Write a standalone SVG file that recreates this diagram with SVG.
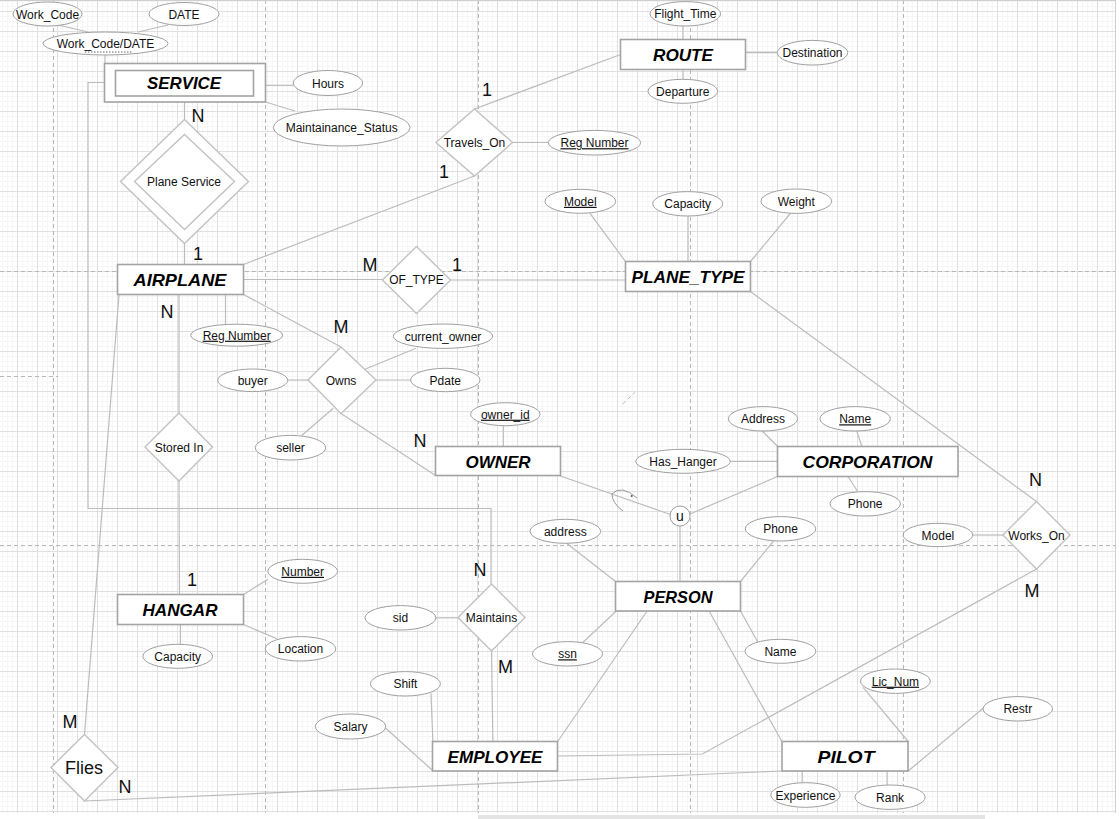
<svg xmlns="http://www.w3.org/2000/svg" width="1119" height="819" viewBox="0 0 1119 819">
<style>
.bg{fill:#ffffff}
.c{fill:none;stroke:#bcbcbc;stroke-width:1.2}
.pb{fill:none;stroke:#b8b8b8;stroke-width:1;stroke-dasharray:4 3}
.ent{fill:#ffffff;stroke:#a3a3a3;stroke-width:1.6}
.rel{fill:#ffffff;stroke:#c2c2c2;stroke-width:1.4}
.att{fill:#ffffff;stroke:#a0a0a0;stroke-width:1}
.et{font-family:"Liberation Sans",Arial,sans-serif;font-weight:900;font-style:italic;font-size:17px;fill:#000;text-anchor:middle}
.t{font-family:"Liberation Sans",Arial,sans-serif;font-size:12px;fill:#111;text-anchor:middle}
.k{text-decoration:underline}
.card{font-family:"Liberation Sans",Arial,sans-serif;font-size:18px;fill:#111;text-anchor:middle}
</style>
<defs>
<pattern id="grid" patternUnits="userSpaceOnUse" x="17" y="11" width="20" height="20">
<path d="M5.5 0V20M10.5 0V20M15.5 0V20M0 5.5H20M0 10.5H20M0 15.5H20" stroke="#f6f6f6" stroke-width="1" fill="none"/>
<path d="M0.5 0V20M0 0.5H20" stroke="#e0e0e0" stroke-width="1" fill="none"/>
</pattern>
</defs>
<rect class="bg" x="0" y="0" width="1119" height="819"/>
<rect x="0" y="0" width="1115" height="813" fill="url(#grid)"/>
<g id="page-breaks">
<path class="pb" d="M53.5 0V813M265.5 0V813M478.5 0V813M690.5 0V813M903.5 0V813M0 271.5H1115M0 545.5H1115M0 376.5H58"/>
<path class="pb" d="M622.7 404L635 392.3"/>
</g>
<path d="M0 0.5H1116M1115.5 0V813" stroke="#cfcfcf" stroke-width="1" fill="none"/>
<rect x="478" y="815" width="507" height="4" fill="#e4e4e4"/>

<g id="connectors">
<path class="c" d="M58 25L88 32"/>
<path class="c" d="M168 25L138 32"/>
<path class="c" d="M105 55V63.5"/>
<path class="c" d="M265.5 85.3H293.3"/>
<path class="c" d="M265.5 102L295 111"/>
<path class="c" d="M184.5 101.5V119.5"/>
<path class="c" d="M184.5 243.5V264.5"/>
<path class="c" d="M104.5 82.5H88V508.5H491V584"/>
<path class="c" d="M683 26V39.5"/>
<path class="c" d="M745.5 52.7H777.3"/>
<path class="c" d="M683 69.5V79.3"/>
<path class="c" d="M620.5 54.5L474.5 109"/>
<path class="c" d="M512.5 142.5H548.3"/>
<path class="c" d="M474.5 176L243.5 264.5"/>
<path class="c" d="M590 213.3L625.5 261.5"/>
<path class="c" d="M688 216V261.5"/>
<path class="c" d="M790.7 213L750.5 261.5"/>
<path class="c" d="M243.5 279.5H382.5"/>
<path class="c" d="M450.5 280H625.5"/>
<path class="c" d="M750.5 291.5L1036.5 501.5"/>
<path class="c" d="M179 294.5V413"/>
<path class="c" d="M225.5 294.5V324.2"/>
<path class="c" d="M243.5 294.5L341 347"/>
<path class="c" d="M119 294.5L84.5 734.5"/>
<path class="c" d="M287.7 380H308"/>
<path class="c" d="M416 348.3L365 369.3"/>
<path class="c" d="M376 380H410.7"/>
<path class="c" d="M301.7 435.5L333.3 408.3"/>
<path class="c" d="M341 413.5L435.5 475.5"/>
<path class="c" d="M503.3 425.7V446.5"/>
<path class="c" d="M560.5 476L670.5 514.5"/>
<path class="c" d="M690 514L777.5 476.5"/>
<path class="c" d="M680 526V581.5"/>
<path class="c" d="M730.3 461.3H777.5"/>
<path class="c" d="M762.2 431L777.7 446.5"/>
<path class="c" d="M856.7 431L861.9 446.5"/>
<path class="c" d="M848.1 476.5L857.8 491.7"/>
<path class="c" d="M566.7 543.3L615.5 581.5"/>
<path class="c" d="M773.5 541L740.5 581.5"/>
<path class="c" d="M972.6 535H1003"/>
<path class="c" d="M1036.5 569L702.5 754L557.5 756"/>
<path class="c" d="M179 481L179.5 594.5"/>
<path class="c" d="M243.5 594.5L267.9 579.3"/>
<path class="c" d="M243.5 624.5L276.8 638.7"/>
<path class="c" d="M180.4 624.5V644.3"/>
<path class="c" d="M435.8 617.8H458"/>
<path class="c" d="M491.5 651L492.9 741.5"/>
<path class="c" d="M431 693.3L432.9 741.5"/>
<path class="c" d="M385.7 728.3L432.9 770.7"/>
<path class="c" d="M582.5 642.7L615.7 611.5"/>
<path class="c" d="M647.1 611L557.7 741.5"/>
<path class="c" d="M709.1 611L781.9 741.5"/>
<path class="c" d="M740.5 611L757.9 642.3"/>
<path class="c" d="M863.1 687.3L908.2 741.5"/>
<path class="c" d="M983.1 708.3L908.2 771"/>
<path class="c" d="M802.2 771V782.7"/>
<path class="c" d="M887.1 771V785"/>
<path class="c" d="M84.5 801L782 771"/>
<path d="M637 498Q621 484 612 494Q612 503 623 511" fill="none" stroke="#999" stroke-width="1"/>
<circle cx="631.7" cy="496" r="1" fill="#555"/>
<text class="card" x="198" y="121.5">N</text>
<text class="card" x="198" y="259.5">1</text>
<text class="card" x="487" y="95.5">1</text>
<text class="card" x="444" y="178">1</text>
<text class="card" x="370" y="270.5">M</text>
<text class="card" x="457" y="270.5">1</text>
<text class="card" x="167" y="318">N</text>
<text class="card" x="341" y="333">M</text>
<text class="card" x="420" y="447">N</text>
<text class="card" x="1035.5" y="485.5">N</text>
<text class="card" x="1032" y="597">M</text>
<text class="card" x="192" y="585.5">1</text>
<text class="card" x="480" y="575.5">N</text>
<text class="card" x="505.5" y="673">M</text>
<text class="card" x="70" y="728">M</text>
<text class="card" x="125" y="793">N</text>
</g>

<g id="SERVICE">
<rect class="ent" x="104.5" y="63.5" width="161" height="38.5"/>
<rect class="ent" x="115.5" y="70.5" width="138" height="25.5"/>
<text class="et" x="184" y="89" textLength="74" lengthAdjust="spacingAndGlyphs">SERVICE</text>
</g>
<g id="ROUTE">
<rect class="ent" x="620.5" y="39.5" width="125" height="30"/>
<text class="et" x="683" y="60.5" textLength="60" lengthAdjust="spacingAndGlyphs">ROUTE</text>
</g>
<g id="PLANE_TYPE">
<rect class="ent" x="625.5" y="261.5" width="125" height="30"/>
<text class="et" x="688" y="282.5" textLength="113" lengthAdjust="spacingAndGlyphs">PLANE_TYPE</text>
</g>
<g id="AIRPLANE">
<rect class="ent" x="117.5" y="264.5" width="126" height="30"/>
<text class="et" x="180" y="286" textLength="93" lengthAdjust="spacingAndGlyphs">AIRPLANE</text>
</g>
<g id="OWNER">
<rect class="ent" x="435.5" y="446.5" width="125" height="29"/>
<text class="et" x="498" y="467.5" textLength="65" lengthAdjust="spacingAndGlyphs">OWNER</text>
</g>
<g id="CORPORATION">
<rect class="ent" x="777.5" y="446.5" width="180.5" height="30"/>
<text class="et" x="867.5" y="467.5" textLength="130" lengthAdjust="spacingAndGlyphs">CORPORATION</text>
</g>
<g id="PERSON">
<rect class="ent" x="615.5" y="581.5" width="125" height="29.5"/>
<text class="et" x="678" y="602.5" textLength="69" lengthAdjust="spacingAndGlyphs">PERSON</text>
</g>
<g id="HANGAR">
<rect class="ent" x="117.5" y="594.5" width="126" height="30"/>
<text class="et" x="180" y="616" textLength="75" lengthAdjust="spacingAndGlyphs">HANGAR</text>
</g>
<g id="EMPLOYEE">
<rect class="ent" x="432.5" y="741.5" width="125" height="29.5"/>
<text class="et" x="495" y="762.5" textLength="95" lengthAdjust="spacingAndGlyphs">EMPLOYEE</text>
</g>
<g id="PILOT">
<rect class="ent" x="782" y="741.5" width="126" height="29.5"/>
<text class="et" x="846" y="762.5" textLength="57" lengthAdjust="spacingAndGlyphs">PILOT</text>
</g>

<g id="Plane_Service">
<polygon class="rel" points="184.5,119.5 248.5,181.5 184.5,243.5 120.5,181.5"/>
<polygon class="rel" points="184.5,134.5 234.5,181.5 184.5,229.5 134.5,181.5"/>
<text class="t" x="184" y="186">Plane Service</text>
</g>
<g id="Travels_On">
<polygon class="rel" points="474.5,109 512.5,142.5 474.5,176 436,142.5"/>
<text class="t" x="474.5" y="147">Travels_On</text>
</g>
<g id="OF_TYPE">
<polygon class="rel" points="416.5,246.5 450.5,280 416.5,313.5 382.5,280"/>
<text class="t" x="416.5" y="284">OF_TYPE</text>
</g>
<g id="Owns">
<polygon class="rel" points="341,347 376,380 341,413.5 308,380"/>
<text class="t" x="341" y="384.5">Owns</text>
</g>
<g id="Stored_In">
<polygon class="rel" points="179,413 212.5,447 179,481 145,447"/>
<text class="t" x="179" y="451.5">Stored In</text>
</g>
<g id="Works_On">
<polygon class="rel" points="1036.5,501.5 1070,535 1036.5,569 1003,535"/>
<text class="t" x="1036.5" y="539.5">Works_On</text>
</g>
<g id="Maintains">
<polygon class="rel" points="491.5,584 525,617.5 491.5,651 458,617.5"/>
<text class="t" x="491.5" y="622">Maintains</text>
</g>
<g id="Flies">
<polygon class="rel" points="84.5,734.5 118,767.5 84.5,801 51,767.5"/>
<text class="t" x="84" y="774" style="font-size:18px">Flies</text>
</g>
<g id="union">
<circle cx="680" cy="516" r="10" fill="#fff" stroke="#a0a0a0" stroke-width="1"/>
<text class="t" x="680" y="521" style="font-size:14px">u</text>
</g>

<g id="attr-Work_Code"><ellipse class="att" cx="47.5" cy="14" rx="34.5" ry="12"/><text class="t" x="47.5" y="18.5">Work_Code</text></g>
<g id="attr-DATE"><ellipse class="att" cx="184" cy="14" rx="35" ry="11.5"/><text class="t" x="184" y="18.5">DATE</text></g>
<g id="attr-Work_Code_DATE"><ellipse class="att" cx="105.5" cy="43.5" rx="62.5" ry="11.5"/><text class="t" x="105.5" y="48">Work_Code/DATE</text><path d="M85 52H132" stroke="#666" stroke-width="1" stroke-dasharray="1.5 1.5"/></g>
<g id="attr-Hours"><ellipse class="att" cx="328" cy="83" rx="34.7" ry="12.5"/><text class="t" x="328" y="87.5">Hours</text></g>
<g id="attr-Maintainance_Status"><ellipse class="att" cx="341.7" cy="127.5" rx="68.3" ry="18.5"/><text class="t" x="341.7" y="132">Maintainance_Status</text></g>
<g id="attr-Flight_Time"><ellipse class="att" cx="685.3" cy="13.8" rx="35.3" ry="12.2"/><text class="t" x="685.3" y="18.3">Flight_Time</text></g>
<g id="attr-Destination"><ellipse class="att" cx="812.5" cy="52.7" rx="35.2" ry="12.3"/><text class="t" x="812.5" y="57.2">Destination</text></g>
<g id="attr-Departure"><ellipse class="att" cx="682.8" cy="91.3" rx="34.8" ry="12"/><text class="t" x="682.8" y="95.8">Departure</text></g>
<g id="attr-Route_Reg_Number"><ellipse class="att" cx="594.5" cy="142.7" rx="46.2" ry="12.3"/><text class="t k" x="594.5" y="147.2">Reg Number</text></g>
<g id="attr-Model"><ellipse class="att" cx="580.3" cy="201.3" rx="35.3" ry="12"/><text class="t k" x="580.3" y="205.8">Model</text></g>
<g id="attr-Capacity"><ellipse class="att" cx="687.7" cy="203.8" rx="35" ry="12.2"/><text class="t" x="687.7" y="208.3">Capacity</text></g>
<g id="attr-Weight"><ellipse class="att" cx="796.3" cy="201.2" rx="35.3" ry="12.2"/><text class="t" x="796.3" y="205.7">Weight</text></g>
<g id="attr-Reg_Number"><ellipse class="att" cx="236.7" cy="335.2" rx="46" ry="11"/><text class="t k" x="236.7" y="339.7">Reg Number</text></g>
<g id="attr-current_owner"><ellipse class="att" cx="443" cy="336.2" rx="49.7" ry="12.2"/><text class="t" x="443" y="340.7">current_owner</text></g>
<g id="attr-buyer"><ellipse class="att" cx="252.7" cy="380.3" rx="35" ry="11.3"/><text class="t" x="252.7" y="384.8">buyer</text></g>
<g id="attr-Pdate"><ellipse class="att" cx="445.3" cy="380" rx="34.7" ry="11.7"/><text class="t" x="445.3" y="384.5">Pdate</text></g>
<g id="attr-seller"><ellipse class="att" cx="290.5" cy="447.7" rx="35.2" ry="12.3"/><text class="t" x="290.5" y="452.2">seller</text></g>
<g id="attr-owner_id"><ellipse class="att" cx="505.3" cy="414.2" rx="34.7" ry="11.5"/><text class="t k" x="505.3" y="418.7">owner_id</text></g>
<g id="attr-Address"><ellipse class="att" cx="763" cy="418.8" rx="34.6" ry="12.2"/><text class="t" x="763" y="423.3">Address</text></g>
<g id="attr-Corp_Name"><ellipse class="att" cx="855.2" cy="418.8" rx="35.2" ry="12.2"/><text class="t k" x="855.2" y="423.3">Name</text></g>
<g id="attr-Has_Hanger"><ellipse class="att" cx="683" cy="461.3" rx="47.3" ry="12"/><text class="t" x="683" y="465.8">Has_Hanger</text></g>
<g id="attr-Corp_Phone"><ellipse class="att" cx="865.2" cy="503.8" rx="35.2" ry="12.2"/><text class="t" x="865.2" y="508.3">Phone</text></g>
<g id="attr-address"><ellipse class="att" cx="565.3" cy="531.3" rx="35.3" ry="12"/><text class="t" x="565.3" y="535.8">address</text></g>
<g id="attr-Phone"><ellipse class="att" cx="780.5" cy="528.8" rx="35.2" ry="12.2"/><text class="t" x="780.5" y="533.3">Phone</text></g>
<g id="attr-Works_Model"><ellipse class="att" cx="937.9" cy="535" rx="34.7" ry="11.7"/><text class="t" x="937.9" y="539.5">Model</text></g>
<g id="attr-Number"><ellipse class="att" cx="302.7" cy="571.3" rx="34.8" ry="12"/><text class="t k" x="302.7" y="575.8">Number</text></g>
<g id="attr-Location"><ellipse class="att" cx="300.5" cy="648.8" rx="35.2" ry="12.2"/><text class="t" x="300.5" y="653.3">Location</text></g>
<g id="attr-Hangar_Capacity"><ellipse class="att" cx="177.7" cy="656.3" rx="34.8" ry="12"/><text class="t" x="177.7" y="660.8">Capacity</text></g>
<g id="attr-sid"><ellipse class="att" cx="400.4" cy="617.8" rx="35.4" ry="12.2"/><text class="t" x="400.4" y="622.3">sid</text></g>
<g id="attr-ssn"><ellipse class="att" cx="567.5" cy="653.8" rx="35" ry="12.2"/><text class="t k" x="567.5" y="658.3">ssn</text></g>
<g id="attr-Name"><ellipse class="att" cx="780.4" cy="651.3" rx="35.4" ry="12"/><text class="t" x="780.4" y="655.8">Name</text></g>
<g id="attr-Shift"><ellipse class="att" cx="405.4" cy="683.8" rx="35" ry="12.2"/><text class="t" x="405.4" y="688.3">Shift</text></g>
<g id="attr-Salary"><ellipse class="att" cx="350.5" cy="726.5" rx="35.2" ry="12.5"/><text class="t" x="350.5" y="731">Salary</text></g>
<g id="attr-Lic_Num"><ellipse class="att" cx="895.4" cy="681.2" rx="34.9" ry="12.2"/><text class="t k" x="895.4" y="685.7">Lic_Num</text></g>
<g id="attr-Restr"><ellipse class="att" cx="1017.8" cy="708.8" rx="34.7" ry="12.2"/><text class="t" x="1017.8" y="713.3">Restr</text></g>
<g id="attr-Experience"><ellipse class="att" cx="805.5" cy="795" rx="34.7" ry="12.3"/><text class="t" x="805.5" y="799.5">Experience</text></g>
<g id="attr-Rank"><ellipse class="att" cx="890.1" cy="797.2" rx="35.1" ry="12.2"/><text class="t" x="890.1" y="801.7">Rank</text></g>
</svg>
